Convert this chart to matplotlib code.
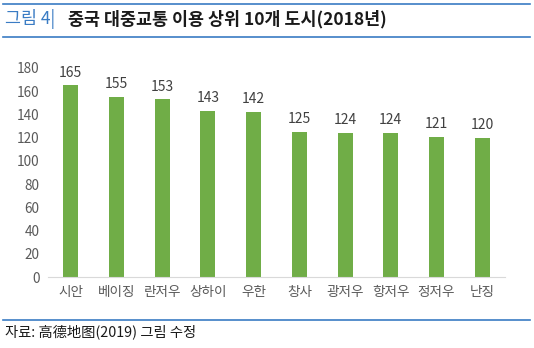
import matplotlib
matplotlib.use("Agg")
import matplotlib.pyplot as plt
from matplotlib.lines import Line2D

plt.rcParams["font.family"] = ["Noto Sans CJK KR", "DejaVu Sans"]

cities = ["시안", "베이징", "란저우", "상하이", "우한", "창사", "광저우", "항저우", "정저우", "난징"]
values = [165, 155, 153, 143, 142, 125, 124, 124, 121, 120]
yticks = [0, 20, 40, 60, 80, 100, 120, 140, 160, 180]

BLUE = "#3a7cc4"
GREEN = "#70ad47"

fig = plt.figure(figsize=(5.34, 3.48), dpi=100)
ax = fig.add_axes([0.0899, 0.204, 0.8558, 0.6006])

x = range(len(cities))
ax.bar(x, values, width=0.33, color=GREEN)
for xi, v in zip(x, values):
    ax.text(xi, v + 5, str(v), ha="center", va="bottom", fontsize=10,
            color="#404040", clip_on=False)

ax.set_xlim(-0.5, len(cities) - 0.5)
ax.set_ylim(0, 180)
ax.set_yticks(yticks)
ax.set_xticks(list(x))
ax.set_xticklabels(cities)
ax.tick_params(axis="both", length=0, labelsize=9.8, labelcolor="#595959")
ax.tick_params(axis="x", pad=6)
ax.tick_params(axis="y", pad=6)
for s in ["top", "right", "left"]:
    ax.spines[s].set_visible(False)
ax.spines["bottom"].set_color("#d9d9d9")

# header and footer rules
for yy in [1 - 4 / 348, 1 - 37 / 348, 1 - 320 / 348]:
    fig.add_artist(Line2D([3 / 534, 530 / 534], [yy, yy], color=BLUE, lw=1.2))

fig.text(5 / 534, 1 - 19 / 348, "그림 4|", color=BLUE, fontsize=12.5,
         va="center", ha="left")
fig.text(68 / 534, 1 - 19 / 348, "중국 대중교통 이용 상위 10개 도시(2018년)",
         color="#1a1a1a", fontsize=12.5, fontweight="bold", va="center", ha="left")
fig.text(5 / 534, 1 - 332 / 348, "자료: 高德地图(2019) 그림 수정", color="#1a1a1a",
         fontsize=10.3, va="center", ha="left")

fig.savefig("out.png", dpi=100)
